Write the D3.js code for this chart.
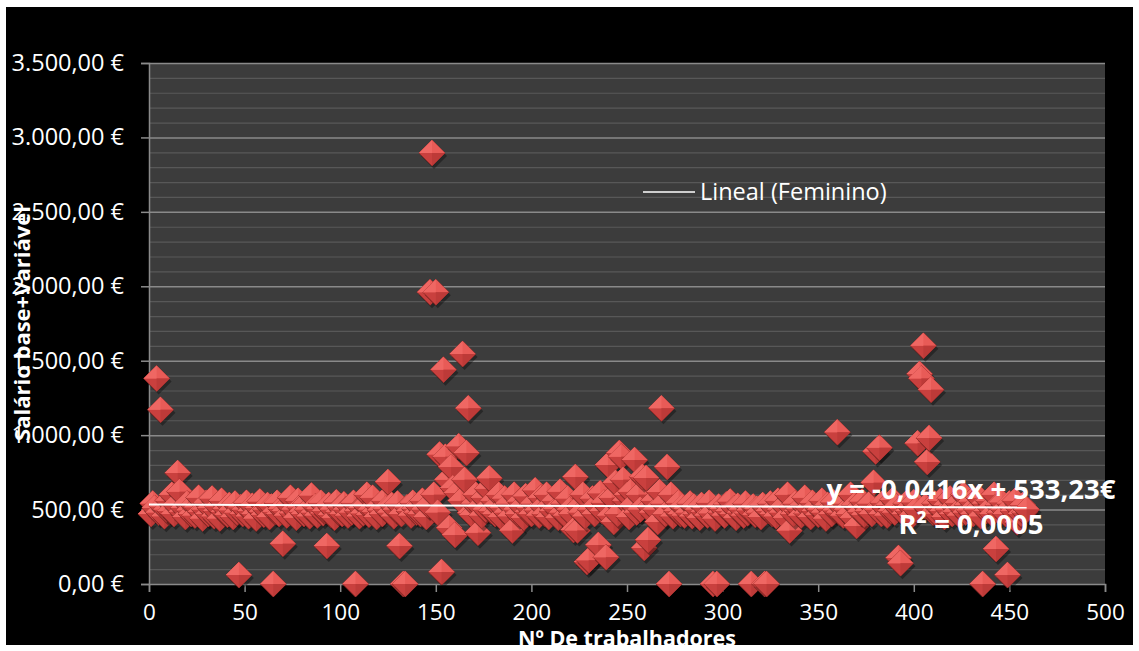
<!DOCTYPE html>
<html><head><meta charset="utf-8">
<script src="https://cdn.jsdelivr.net/npm/d3@7"></script>
<style>html,body{margin:0;padding:0;background:#fff;}svg{display:block;}</style>
</head><body>
<script>
// ---- data ----
const salaries = [
470,540,510,1380,480,1170,520,455,500,560,490,600,470,530,745,620,485,510,450,540,
495,470,530,460,515,580,485,440,500,545,470,510,575,455,490,520,440,560,485,505,
465,530,495,450,540,480,60,515,470,500,545,455,490,525,470,440,510,555,485,465,
500,530,450,520,0,485,545,470,505,270,490,460,530,580,475,500,445,560,515,485,
470,540,500,455,595,480,520,460,505,545,475,490,255,530,465,500,445,550,485,515,
470,535,500,460,520,480,545,0,490,455,510,475,530,600,465,500,580,485,450,520,
495,470,560,505,685,480,530,455,500,540,255,470,0,0,515,490,460,545,505,480,
520,470,560,500,450,530,1960,2895,600,1960,480,870,80,1440,855,700,376,786,645,330,
611,925,560,1545,700,880,1180,477,463,540,600,345,520,460,580,500,640,710,490,560,
470,530,600,450,510,575,480,540,455,360,600,500,470,555,520,445,590,485,510,470,
540,630,495,460,580,520,470,600,450,530,490,560,505,445,620,480,540,460,575,500,
470,363,719,360,520,480,600,455,148,160,500,575,470,530,262,610,490,545,180,800,
460,580,417,680,470,880,855,700,560,600,450,620,530,833,480,600,500,720,242,712,
296,520,480,560,500,417,618,1180,540,470,786,0,600,455,510,490,545,470,520,460,
505,480,540,455,520,470,500,445,530,485,510,460,545,475,0,440,0,520,480,505,
460,535,490,555,470,510,445,525,480,500,460,540,475,495,0,520,465,505,480,450,
530,0,0,490,540,470,510,455,560,500,480,525,445,600,360,515,470,540,490,505,
460,530,580,475,510,450,545,490,520,465,500,560,480,440,530,505,470,550,495,1020,
480,520,460,540,500,470,600,445,530,390,510,485,555,465,520,490,540,470,680,890,
500,915,470,545,510,460,530,490,565,480,520,175,140,505,470,540,490,520,460,550,
500,945,1410,1380,1600,520,820,980,1305,480,540,470,510,560,490,450,530,500,575,470,
520,485,545,460,510,600,480,530,495,555,470,520,500,580,455,0,540,490,560,510,
470,600,235,530,480,550,500,470,60,540,520,490,560,415,505,470,530,480,500
];
const yTicks = [0,500,1000,1500,2000,2500,3000,3500];
const xTicks = [0,50,100,150,200,250,300,350,400,450,500];
const trendSlope = -0.0416;
const trendIntercept = 533.23;
const equationText = "y = -0,0416x + 533,23€";
const r2Text = "R² = 0,0005";
const legendText = "Lineal (Feminino)";
const yTitle = "Salário base+Variável";
const xTitle = "Nº De trabalhadores";

const W = 1139, H = 651;
const svg = d3.select("body").append("svg").attr("width", W).attr("height", H);
const font = "'Open Sans', sans-serif";

svg.append("rect").attr("x",0).attr("y",0).attr("width",W).attr("height",H).attr("fill","#fff");
svg.append("rect").attr("x",6).attr("y",7).attr("width",1127).attr("height",638).attr("fill","#000");

const plot = {l:149, r:1105, t:63, b:584};
const x = d3.scaleLinear().domain([0,500]).range([plot.l, plot.r]);
const y = d3.scaleLinear().domain([0,3500]).range([plot.b, plot.t]);

svg.append("rect").attr("x",plot.l).attr("y",plot.t).attr("width",plot.r-plot.l).attr("height",plot.b-plot.t).attr("fill","#3c3c3c");

// minor gridlines
const minor = d3.range(100,3500,100).filter(v => v % 500 !== 0);
svg.append("g").selectAll("line").data(minor).join("line")
  .attr("x1",plot.l).attr("x2",plot.r).attr("y1",d=>y(d)+0.5).attr("y2",d=>y(d)+0.5)
  .attr("stroke","#585858").attr("stroke-width",1.2);
// major gridlines
svg.append("g").selectAll("line").data(yTicks.filter(d=>d>0)).join("line")
  .attr("x1",plot.l).attr("x2",plot.r).attr("y1",d=>y(d)+0.5).attr("y2",d=>y(d)+0.5)
  .attr("stroke","#8a8a8a").attr("stroke-width",1.5);

const fmt = d3.formatLocale({decimal:",", thousands:".", grouping:[3], currency:["","\u00a0€"]}).format(",.2f");

// y axis
const yAxis = svg.append("g").attr("transform",`translate(${plot.l},0)`)
  .call(d3.axisLeft(y).tickValues(yTicks).tickSize(8).tickPadding(17).tickFormat(d=>fmt(d)+" €"));
yAxis.select(".domain").attr("stroke","#8a8a8a").attr("stroke-width",1.5);
yAxis.selectAll(".tick line").attr("stroke","#8a8a8a").attr("stroke-width",1.5);
yAxis.selectAll("text").attr("fill","#fff").attr("font-family",font).attr("font-size",23.5);

// x axis
const xAxis = svg.append("g").attr("transform",`translate(0,${plot.b})`)
  .call(d3.axisBottom(x).tickValues(xTicks).tickSize(8).tickPadding(12).tickFormat(d3.format("d")));
xAxis.select(".domain").attr("stroke","#8a8a8a").attr("stroke-width",1.5);
xAxis.selectAll(".tick line").attr("stroke","#8a8a8a").attr("stroke-width",1.5);
xAxis.selectAll("text").attr("fill","#fff").attr("font-family",font).attr("font-size",22.5);

// points: 3D diamonds
const s = 13;
const pts = svg.append("g").selectAll("g").data(salaries).join("g")
  .attr("transform",(d,i)=>`translate(${x(i+1)},${y(d)})`);
pts.append("path").attr("d",`M0,${-s}L${s},0L0,${s}L${-s},0Z`).attr("transform","translate(2,3)")
  .attr("fill","#000").attr("opacity",0.35);
pts.append("path").attr("d",`M0,${-s}L${s},0L0,${s}L${-s},0Z`).attr("fill","#c9403e").attr("stroke","#8e2826").attr("stroke-width",0.8);
pts.append("path").attr("d",`M0,${-s}L${s},0L0,0L${-s},0Z`).attr("fill","#e85b57");
pts.append("path").attr("d",`M0,${-s}L${-s},0L0,0Z`).attr("fill","#ef6763");
pts.append("path").attr("d",`M0,${s}L${s},0L0,0Z`).attr("fill","#bd3a38");

// trend line
const xEnd = salaries.length;
svg.append("line").attr("x1",x(0)).attr("y1",y(trendIntercept))
  .attr("x2",x(xEnd)).attr("y2",y(trendIntercept+trendSlope*xEnd))
  .attr("stroke","#fff").attr("stroke-width",2);

// legend
svg.append("line").attr("x1",643).attr("x2",695).attr("y1",192).attr("y2",192).attr("stroke","#fff").attr("stroke-width",1.5);
svg.append("text").attr("x",700).attr("y",200).attr("fill","#fff").attr("font-family",font).attr("font-size",23.5).text(legendText);

// equation
svg.append("text").attr("x",971).attr("y",499).attr("text-anchor","middle").attr("fill","#fff")
  .attr("font-family",font).attr("font-weight","bold").attr("font-size",27.5).text(equationText);
svg.append("text").attr("x",971).attr("y",534).attr("text-anchor","middle").attr("fill","#fff")
  .attr("font-family",font).attr("font-weight","bold").attr("font-size",27.5).text(r2Text);

// axis titles
svg.append("text").attr("transform",`translate(30,${(plot.t+plot.b)/2}) rotate(-90)`).attr("text-anchor","middle")
  .attr("fill","#fff").attr("font-family",font).attr("font-weight","bold").attr("font-size",22).text(yTitle);
svg.append("text").attr("x",(plot.l+plot.r)/2).attr("y",646).attr("text-anchor","middle")
  .attr("fill","#fff").attr("font-family",font).attr("font-weight","bold").attr("font-size",21.5).text(xTitle);
</script>
</body></html>
